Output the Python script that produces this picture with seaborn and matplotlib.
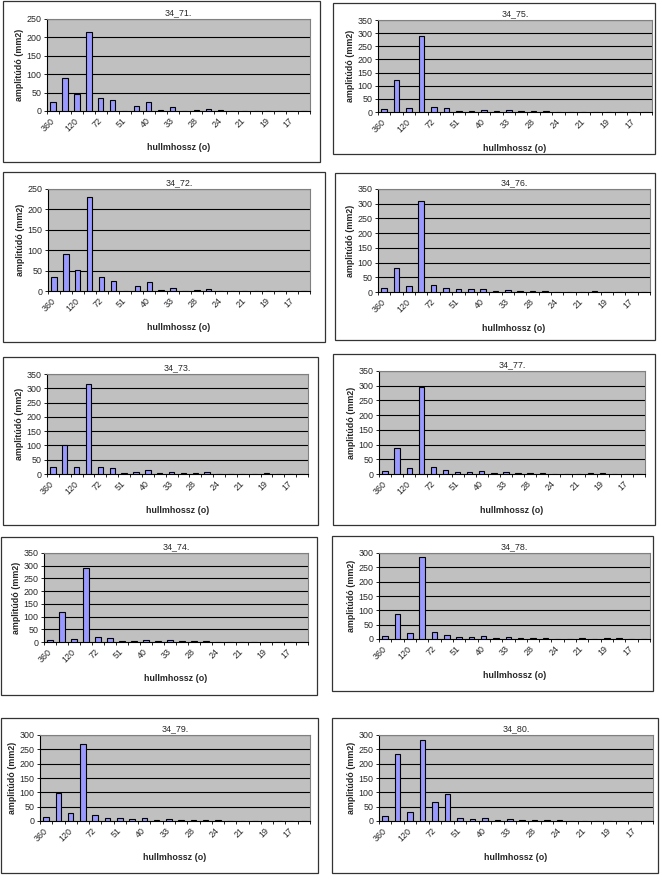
import matplotlib
matplotlib.use("Agg")
import matplotlib.pyplot as plt
from matplotlib.patches import Rectangle
import seaborn as sns
import numpy as np

sns.set_theme(style="white")
plt.rcParams['font.family'] = ['Liberation Sans', 'DejaVu Sans']

# wavelength categories (degrees), every other one labelled on the axis
wavelengths = ["360", "180", "120", "90", "72", "60", "51", "45", "40", "36", "33",
               "30", "28", "26", "24", "23", "21", "20", "19", "18", "17", "16"]
tick_labels = ["360", "120", "72", "51", "40", "33", "28", "24", "21", "19", "17"]

s34_71 = [24, 90, 46, 216, 34, 30, 1, 13, 25, 3, 10, 1, 1.5, 6, 1.5, 0, 0, 0, 1, 1, 0, 0]
s34_72 = [34, 91, 52, 231, 34, 25, 0, 12, 22, 2, 8, 1, 2, 6, 1, 0, 0, 0, 1, 1, 0, 0]
s34_73 = [26, 101, 26, 315, 23, 20, 4, 6, 14, 5, 8, 2, 2, 6, 0, 0, 0, 0, 2, 0, 0, 0]
s34_74 = [8, 118, 12, 291, 18, 16, 4, 5, 9, 5, 8, 3, 3, 4, 0, 0, 1, 0, 0, 0, 0, 0]
s34_75 = [10, 120, 14, 291, 20, 16, 4, 4, 9, 5, 8, 2, 2, 3, 0, 1, 0, 1, 0, 0, 0, 0]
s34_76 = [15, 83, 20, 308, 24, 14, 11, 10, 11, 5, 8, 2, 3, 4, 0, 0, 0, 2, 0, 0, 0, 0]
s34_77 = [11, 89, 21, 294, 25, 14, 8, 8, 9, 5, 7, 3, 3, 4, 0, 1, 0, 2, 2, 0, 0, 0]
s34_78 = [12, 86, 22, 285, 24, 14, 8, 8, 9, 5, 8, 3, 3, 4, 0, 0, 2, 0, 2, 2, 0, 0]
s34_79 = [13, 98, 28, 269, 21, 12, 10, 6, 9, 4, 7, 3, 3, 3, 2, 0, 1, 0, 0, 1, 0, 0]
s34_80 = [16, 234, 31, 281, 67, 94, 9, 7, 9, 5, 7, 2, 3, 3, 2, 0, 1, 0, 1, 1, 0, 0]

W, H = 662, 890
fig = plt.figure(figsize=(W / 100, H / 100), dpi=100)
fig.patch.set_facecolor("white")

# (title, data, ymax, box(x0,y0,x1,y1), plot(x0,y0,x1,y1)) in pixels, y downward
panels = [
    ("34_71.", s34_71, 250, (3, 1, 320, 162), (47, 19, 310, 111)),
    ("34_75.", s34_75, 350, (333, 3, 655, 154), (378, 20, 652, 112)),
    ("34_72.", s34_72, 250, (3, 172, 325, 342), (48, 189, 310, 291)),
    ("34_76.", s34_76, 350, (335, 173, 655, 340), (378, 189, 650, 292)),
    ("34_73.", s34_73, 350, (3, 357, 318, 525), (47, 374, 308, 474)),
    ("34_77.", s34_77, 350, (333, 354, 655, 525), (379, 371, 645, 474)),
    ("34_74.", s34_74, 350, (1, 537, 317, 695), (44, 553, 308, 642)),
    ("34_78.", s34_78, 300, (332, 536, 653, 691), (379, 553, 650, 639)),
    ("34_79.", s34_79, 300, (1, 718, 318, 873), (40, 735, 310, 821)),
    ("34_80.", s34_80, 300, (332, 718, 658, 873), (379, 735, 653, 821)),
]

fs = 6.4
for title, data, ymax, box, plot in panels:
    bx0, by0, bx1, by1 = box
    fig.patches.append(Rectangle((bx0 / W, 1 - by1 / H), (bx1 - bx0) / W, (by1 - by0) / H,
                                 transform=fig.transFigure, fill=False,
                                 edgecolor="#333333", linewidth=0.9, zorder=0))
    px0, py0, px1, py1 = plot
    ax = fig.add_axes([px0 / W, 1 - py1 / H, (px1 - px0) / W, (py1 - py0) / H])
    ax.set_facecolor("#c0c0c0")
    sns.barplot(x=wavelengths, y=data, ax=ax, color="#9999ff", saturation=1,
                edgecolor="black", linewidth=0.8, width=0.45)
    for p in ax.patches:
        p.set_zorder(3)
    ax.set_xlim(-0.5, len(wavelengths) - 0.5)
    ax.set_ylim(0, ymax)
    yt = np.arange(0, ymax + 1, 50)
    ax.set_yticks(yt)
    ax.set_yticklabels([str(v) for v in yt], fontsize=fs)
    for v in yt[1:]:
        ax.axhline(v, color="black", linewidth=0.8, zorder=1)
    ax.set_xticks(np.arange(0, 21, 2))
    ax.set_xticklabels(tick_labels, rotation=45, ha="right", va="center",
                       rotation_mode="anchor", fontsize=fs)
    ax.set_xticks(np.arange(-0.5, len(wavelengths), 1), minor=True)
    ax.tick_params(axis="x", which="major", length=0, pad=6)
    ax.tick_params(axis="x", which="minor", length=2.5, width=0.6, direction="out",
                   color="black", bottom=True)
    ax.tick_params(axis="y", which="major", length=2.5, width=0.6, direction="out",
                   color="black", left=True, pad=1.5)
    for side in ("top", "right"):
        ax.spines[side].set_color("#808080")
        ax.spines[side].set_linewidth(0.8)
    for side in ("left", "bottom"):
        ax.spines[side].set_color("black")
        ax.spines[side].set_linewidth(0.8)
    ax.set_xlabel("hullmhossz (o)", fontsize=fs, fontweight="bold", labelpad=7)
    ax.set_ylabel("amplitúdó (mm2)", fontsize=fs, fontweight="bold", labelpad=2)
    ax.set_title(title, fontsize=fs, pad=3)

fig.savefig("out.png", dpi=100, facecolor="white")
